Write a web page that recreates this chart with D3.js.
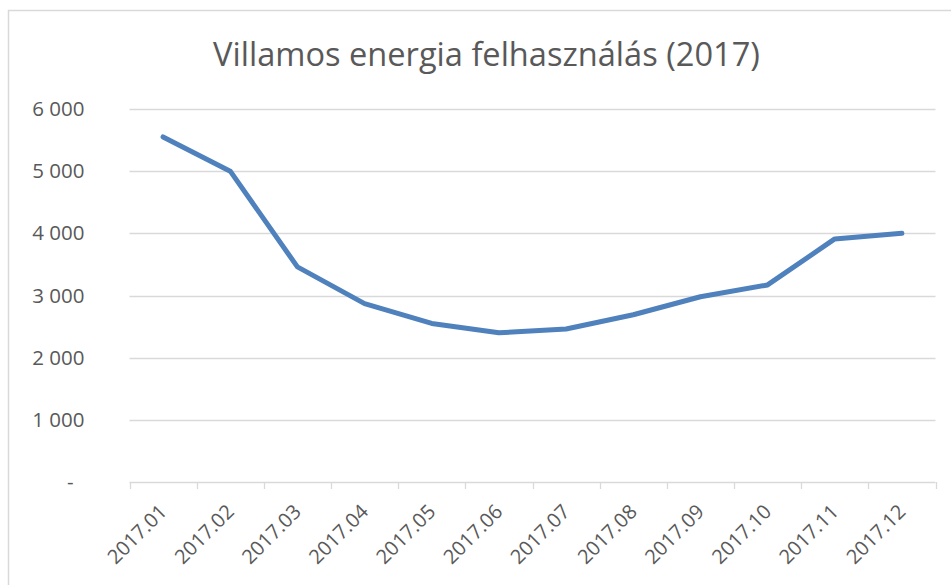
<!DOCTYPE html>
<html>
<head>
<meta charset="utf-8">
<script src="https://cdn.jsdelivr.net/npm/d3@7"></script>
<style>
  html, body { margin: 0; padding: 0; background: #fff; }
  svg { display: block; }
</style>
</head>
<body>
<svg id="chart" width="951" height="585"></svg>
<script>
const title = "Villamos energia felhasználás (2017)";
const categories = ["2017.01","2017.02","2017.03","2017.04","2017.05","2017.06","2017.07","2017.08","2017.09","2017.10","2017.11","2017.12"];
const values = [5550, 5000, 3460, 2870, 2550, 2400, 2460, 2690, 2980, 3170, 3910, 4000];
const yTicks = [0, 1000, 2000, 3000, 4000, 5000, 6000];

(function () {
const svg = d3.select("#chart");
const font = "'Open Sans', sans-serif";
const textColor = "#595959";
const gridColor = "#d9d9d9";

// outer border
svg.append("rect")
  .attr("x", 8.5).attr("y", 10.5)
  .attr("width", 960).attr("height", 600)
  .attr("fill", "#fff").attr("stroke", gridColor).attr("stroke-width", 1.5);

const pLeft = 129.5, pRight = 935.5, pTop = 109, pBottom = 482;

const x = d3.scaleBand().domain(categories).range([pLeft, pRight]).padding(0);
const y = d3.scaleLinear().domain([0, 6000]).range([pBottom, pTop]);

// gridlines
svg.append("g")
  .selectAll("line")
  .data(yTicks.filter(d => d > 0))
  .join("line")
  .attr("x1", pLeft).attr("x2", pRight)
  .attr("y1", d => Math.round(y(d)) + 0.5).attr("y2", d => Math.round(y(d)) + 0.5)
  .attr("stroke", gridColor).attr("stroke-width", 1.3);

// y axis labels
const fmt = d => d === 0 ? "-" : d3.format(",")(d).replace(/,/g, " ");
const yAxis = svg.append("g")
  .attr("transform", `translate(${pLeft},0)`)
  .call(d3.axisLeft(y).tickValues(yTicks).tickFormat(fmt).tickSize(0).tickPadding(45));
yAxis.select(".domain").remove();
yAxis.selectAll("text")
  .attr("font-family", font).attr("font-size", 20.5).attr("fill", textColor)
  .attr("dx", d => d === 0 ? -11 : 0);

// x axis
const xAxis = svg.append("g")
  .attr("transform", `translate(0,${pBottom})`)
  .call(d3.axisBottom(x).tickSize(0).tickFormat(""));
xAxis.select(".domain").attr("stroke", gridColor).attr("stroke-width", 1.3)
  .attr("d", `M${pLeft},0.5H${pRight}`);
xAxis.selectAll(".tick").remove();

// tick marks at category boundaries
const bounds = categories.map(c => x(c)).concat([x(categories[categories.length-1]) + x.bandwidth()]);
svg.append("g")
  .selectAll("line")
  .data(bounds)
  .join("line")
  .attr("x1", d => Math.round(d) + 0.5).attr("x2", d => Math.round(d) + 0.5)
  .attr("y1", pBottom).attr("y2", pBottom + 7)
  .attr("stroke", gridColor).attr("stroke-width", 1.3);

// x labels
svg.append("g")
  .selectAll("text")
  .data(categories)
  .join("text")
  .attr("transform", d => `translate(${x(d) + x.bandwidth()/2 + 5},${pBottom + 31}) rotate(-45)`)
  .attr("text-anchor", "end")
  .attr("font-family", font).attr("font-size", 20).attr("fill", textColor)
  .text(d => d);

// line
const line = d3.line()
  .x((d, i) => x(categories[i]) + x.bandwidth()/2)
  .y(d => y(d));
svg.append("path")
  .datum(values)
  .attr("d", line)
  .attr("fill", "none")
  .attr("stroke", "#4f81bd")
  .attr("stroke-width", 5)
  .attr("stroke-linecap", "round")
  .attr("stroke-linejoin", "round");

// title
svg.append("text")
  .attr("x", 486.5).attr("y", 66)
  .attr("text-anchor", "middle")
  .attr("font-family", font).attr("font-size", 32.6).attr("fill", textColor)
  .text(title);
})();
</script>
</body>
</html>
